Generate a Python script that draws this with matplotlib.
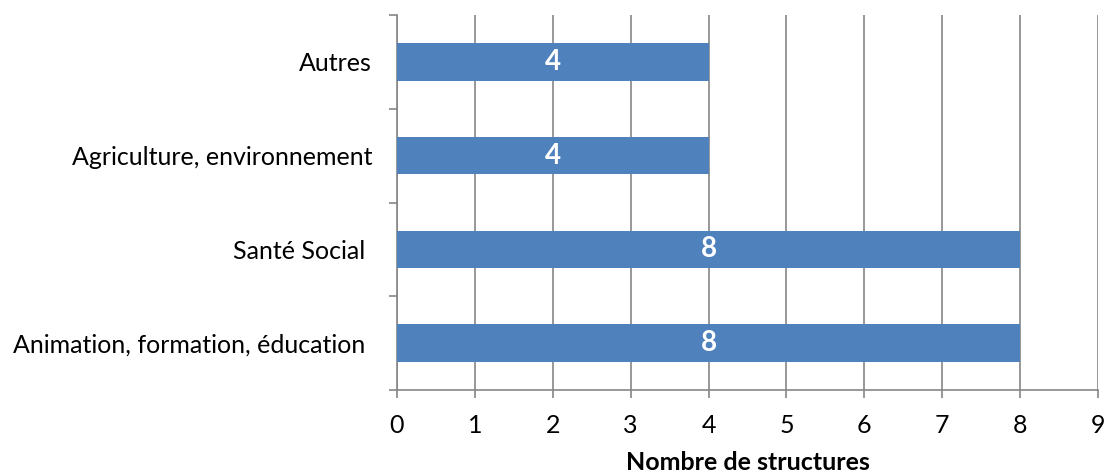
import matplotlib.pyplot as plt
import numpy as np

categories = ['Animation, formation, éducation ', 'Santé Social ',
              'Agriculture, environnement', 'Autres']
values = [8, 8, 4, 4]
xticks = list(range(0, 10))

plt.rcParams['font.family'] = ['Lato', 'DejaVu Sans']

fig = plt.figure(figsize=(11.04, 4.75), dpi=100)
ax = fig.add_axes([397 / 1104, 1 - 390 / 475, 701 / 1104, 375 / 475])

pos = np.arange(len(categories))
ax.barh(pos, values, height=0.4, color='#4F81BD', zorder=3)
for p, v in zip(pos, values):
    ax.text(v / 2, p, str(v), color='white', fontsize=20, fontweight='bold',
            ha='center', va='center', zorder=4)

ax.set_xlim(0, 9)
ax.set_ylim(-0.5, 3.5)
ax.set_xticks(xticks)
ax.set_yticks(np.arange(-0.5, 4, 1), minor=False)
ax.set_yticklabels([])
ax.set_yticks(pos, minor=True)
ax.set_yticklabels(categories, minor=True, fontsize=18)
ax.tick_params(axis='y', which='minor', length=0, pad=18)
ax.tick_params(axis='y', which='major', length=6, width=1.2, color='#868686')
ax.tick_params(axis='x', length=6, width=1.2, color='#868686', labelsize=18, pad=11)

ax.grid(axis='x', color='#868686', linewidth=1.2, zorder=0)
for s in ('top', 'right'):
    ax.spines[s].set_visible(False)
for s in ('left', 'bottom'):
    ax.spines[s].set_color('#868686')
    ax.spines[s].set_linewidth(1.2)

ax.set_xlabel('Nombre de structures', fontsize=18, fontweight='bold', labelpad=10)

fig.savefig('out.png', dpi=100)
